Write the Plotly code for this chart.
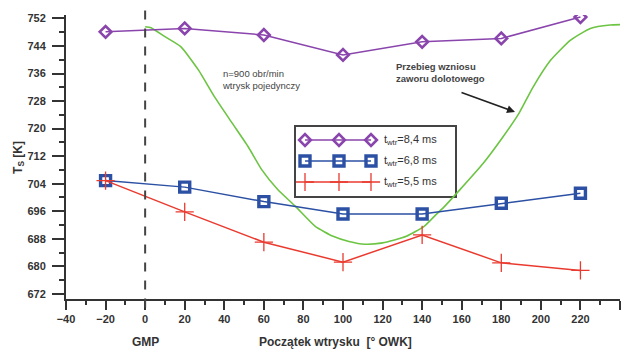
import plotly.graph_objects as go

# Injection start angle [deg crank angle]
start_angle = [-20, 20, 60, 100, 140, 180, 220]

# Exhaust temperature T_s [K] for three injection durations
ts_84 = [748.1, 749.1, 747.2, 741.4, 745.2, 746.2, 752.4]
ts_68 = [704.9, 703.0, 698.8, 695.2, 695.2, 698.3, 701.2]
ts_55 = [704.9, 695.8, 687.0, 681.2, 689.1, 681.0, 678.8]

series_names = ["t<sub>wtr</sub>=8,4 ms", "t<sub>wtr</sub>=6,8 ms", "t<sub>wtr</sub>=5,5 ms"]

# Intake valve lift profile (drawn in temperature units)
valve_angle = [0, 3, 10, 18, 27, 35, 44, 52, 59, 67, 76, 86, 95, 103, 111, 120, 132,
               141, 147, 151, 159, 171, 181, 189, 196, 205, 215, 225, 235, 240]
valve_lift = [749.6, 749.3, 746.7, 743.8, 737.0, 729.3, 721.6, 714.8, 708.0, 702.3,
              697.4, 691.6, 688.7, 687.2, 686.4, 686.8, 688.7, 691.6, 695.0, 697.2,
              702.2, 710.0, 717.7, 724.5, 732.0, 739.9, 745.7, 749.1, 750.1, 750.2]

x_ticks = list(range(-40, 241, 20))
y_ticks = list(range(672, 753, 8))

PURPLE = "#8a45ad"
BLUE = "#2c50a4"
RED = "#ea3a2f"
GREEN = "#6cc443"
TXT = "#333333"
FONT = "Liberation Sans"

styles = [
    dict(color=PURPLE, symbol="diamond-open", size=9, lw=2.6),
    dict(color=BLUE, symbol="square-open", size=10, lw=3.4),
    dict(color=RED, symbol="cross-thin", size=13, lw=1.3),
]

fig = go.Figure()

fig.add_trace(go.Scatter(
    x=valve_angle, y=valve_lift, mode="lines",
    line=dict(color=GREEN, width=1.6, shape="spline", smoothing=0.5),
    showlegend=False, hoverinfo="skip"))

for vals, st in zip([ts_84, ts_68, ts_55], styles):
    fig.add_trace(go.Scatter(
        x=start_angle, y=vals, mode="lines+markers",
        line=dict(color=st["color"], width=1.5),
        marker=dict(symbol=st["symbol"], size=st["size"], color=st["color"],
                    line=dict(color=st["color"], width=st["lw"])),
        showlegend=False))

# Custom legend box drawn on a hidden pixel-unit overlay axis
legend_rows = [140, 161, 182]
legend_marks = [305, 339, 371]
for row, st in zip(legend_rows, styles):
    fig.add_trace(go.Scatter(
        x=legend_marks, y=[row] * 3, xaxis="x2", yaxis="y2",
        mode="lines+markers", line=dict(color=st["color"], width=1.5),
        marker=dict(symbol=st["symbol"], size=st["size"], color=st["color"],
                    line=dict(color=st["color"], width=st["lw"])),
        showlegend=False, hoverinfo="skip"))

shapes = [
    dict(type="line", xref="x", yref="paper", x0=0, x1=0, y0=-0.03, y1=1.03,
         line=dict(color="#444444", width=2, dash="dash")),
    dict(type="rect", xref="x2", yref="y2", x0=295, x1=456, y0=126, y1=197,
         line=dict(color="#444444", width=2), fillcolor="rgba(255,255,255,0)",
         layer="below"),
]

annotations = []
for row, name in zip(legend_rows, series_names):
    annotations.append(dict(xref="x2", yref="y2", x=382, y=row, text=name,
                            showarrow=False, xanchor="left", yanchor="middle",
                            font=dict(family=FONT, size=11, color=TXT)))

annotations += [
    dict(xref="x2", yref="y2", x=220, y=79, text="n=900 obr/min<br>wtrysk pojedynczy",
         showarrow=False, xanchor="left", yanchor="middle", align="left",
         font=dict(family=FONT, size=9.5, color="#444444")),
    dict(xref="x2", yref="y2", x=394, y=72,
         text="<b>Przebieg wzniosu<br>zaworu dolotowego</b>",
         showarrow=False, xanchor="left", yanchor="middle", align="left",
         font=dict(family=FONT, size=9.5, color="#444444")),
    dict(xref="x2", yref="y2", x=515, y=112, axref="x2", ayref="y2", ax=460, ay=92,
         text="", showarrow=True, arrowhead=2, arrowsize=1, arrowwidth=1.6,
         arrowcolor="#222222"),
    dict(xref="x", yref="paper", x=0, y=-0.152, text="<b>GMP</b>", showarrow=False,
         xanchor="center", yanchor="middle", font=dict(family=FONT, size=12, color=TXT)),
    dict(xref="paper", yref="paper", x=0.487, y=-0.152,
         text="<b>Początek wtrysku  [° OWK]</b>", showarrow=False,
         xanchor="center", yanchor="middle", font=dict(family=FONT, size=12, color=TXT)),
    dict(xref="paper", yref="paper", x=-0.085, y=0.5,
         text="<b>T<sub>S</sub> [K]</b>", textangle=-90, showarrow=False,
         xanchor="center", yanchor="middle", font=dict(family=FONT, size=12, color=TXT)),
]

fig.update_layout(
    width=626, height=351,
    margin=dict(l=66, r=6, t=15, b=52),
    plot_bgcolor="white", paper_bgcolor="white",
    showlegend=False,
    shapes=shapes, annotations=annotations,
    xaxis=dict(range=[-40, 240], tickvals=x_ticks, showgrid=False, zeroline=False,
               showline=True, linecolor="#333333", linewidth=2,
               ticks="outside", ticklen=9, tickwidth=2, tickcolor="#333333",
               minor=dict(ticks="outside", ticklen=4, tickwidth=1.5,
                          tickcolor="#333333", dtick=10),
               tickfont=dict(family=FONT, size=11, color=TXT, weight="bold")),
    yaxis=dict(range=[670.5, 753], tickvals=y_ticks, showgrid=False, zeroline=False,
               showline=True, linecolor="#333333", linewidth=2,
               ticks="outside", ticklen=12, tickwidth=2, tickcolor="#333333",
               minor=dict(ticks="outside", ticklen=5, tickwidth=1.5,
                          tickcolor="#333333", dtick=4),
               ticklabelstandoff=4,
               tickfont=dict(family=FONT, size=11, color=TXT, weight="bold")),
    xaxis2=dict(overlaying="x", range=[66, 620], visible=False, fixedrange=True),
    yaxis2=dict(overlaying="y", range=[299, 15], visible=False, fixedrange=True),
)

fig.write_html("out.html")
